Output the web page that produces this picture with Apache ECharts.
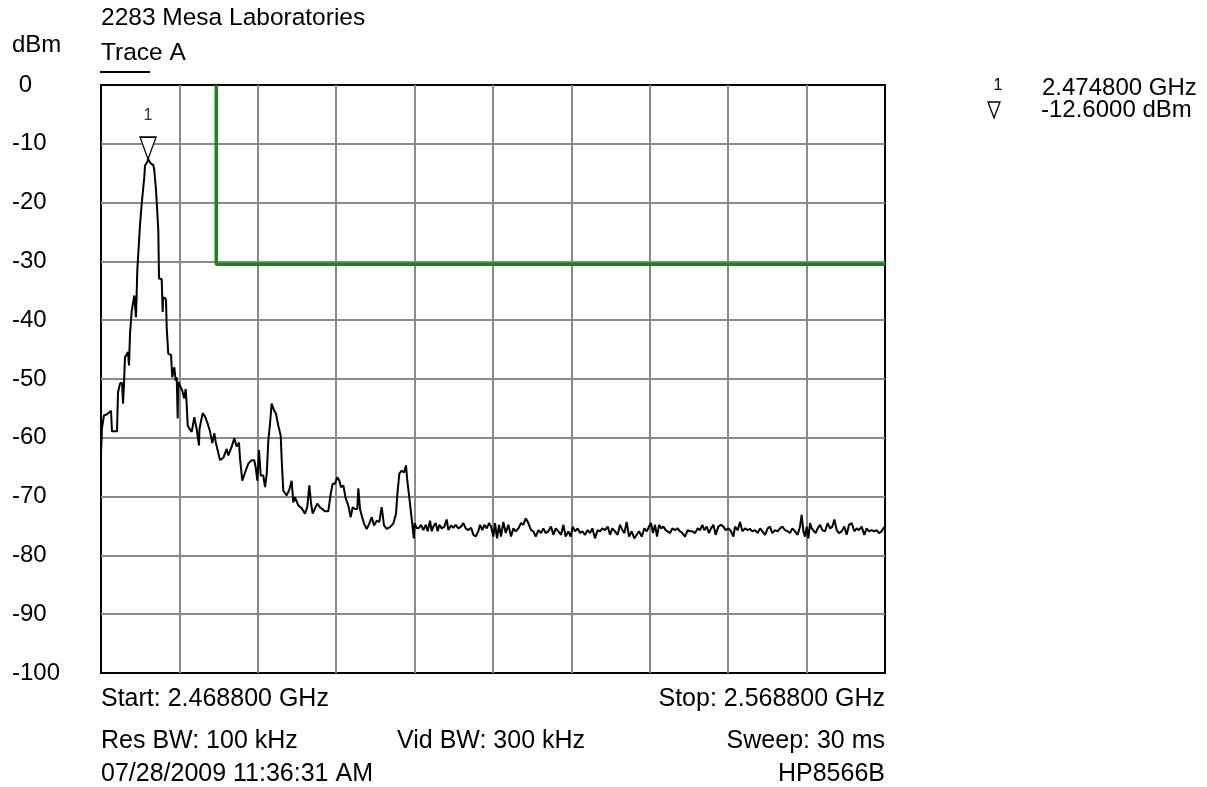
<!DOCTYPE html>
<html>
<head>
<meta charset="utf-8">
<script src="https://cdn.jsdelivr.net/npm/echarts@6/dist/echarts.min.js"></script>
<style>
html,body{margin:0;padding:0;background:#fff;}
#chart{width:1207px;height:787px;}
</style>
</head>
<body>
<div id="chart"></div>
<script>
// ---- data ----
const titleText = '2283 Mesa Laboratories';
const traceName = 'Trace A';
const yUnit = 'dBm';
const startGHz = '2.468800';
const stopGHz = '2.568800';
const spanMHz = 100;
const yTicks = [0, -10, -20, -30, -40, -50, -60, -70, -80, -90, -100];

// frequency offset from start (MHz) and measured level (dBm)
const traceFreq = [
  0.00,0.13,0.38,0.77,1.28,1.40,2.04,2.17,2.42,2.68,2.81,2.93,3.06,3.44,3.57,3.70,3.92,4.25,4.46,4.55,
  4.63,4.85,4.97,5.19,5.52,5.61,5.91,6.00,6.12,6.38,6.67,6.80,7.02,7.31,7.40,7.74,7.87,7.91,8.07,8.29,
  8.38,8.58,8.93,9.09,9.35,9.53,9.66,9.78,9.85,10.08,10.37,10.62,10.80,10.91,11.06,11.26,11.57,11.90,12.21,12.50,
  12.56,12.76,12.97,13.27,13.61,13.90,14.20,14.45,14.63,14.88,15.18,15.60,16.03,16.24,16.67,17.00,17.31,17.60,17.73,18.02,
  18.37,18.79,19.22,19.55,19.73,19.94,20.15,20.37,20.70,20.92,21.14,21.34,21.56,21.77,22.07,22.32,22.61,22.92,23.05,23.25,
  23.69,24.02,24.32,24.53,24.74,25.17,25.60,26.02,26.31,26.57,26.79,27.00,27.30,27.59,27.93,28.57,28.99,29.30,29.55,29.85,
  30.14,30.40,30.61,30.91,31.21,31.54,31.85,32.10,32.40,32.69,32.82,33.04,33.25,33.55,33.89,34.22,34.53,34.82,35.17,35.50,
  35.80,36.10,36.44,36.86,37.28,37.63,37.79,38.05,38.35,38.65,38.90,39.07,39.32,39.63,39.83,39.90,40.00,40.27,40.57,40.82,
  41.12,41.42,41.67,41.97,42.18,42.39,42.69,42.95,43.16,43.46,43.80,44.09,44.31,44.65,44.94,45.24,45.58,45.92,46.22,46.52,
  46.86,47.20,47.50,47.79,48.13,48.35,48.64,48.90,49.20,49.49,49.75,50.05,50.26,50.51,50.77,51.02,51.32,51.62,51.96,52.30,
  52.60,52.90,53.24,53.58,53.87,54.17,54.51,54.85,55.15,55.45,55.79,56.13,56.42,56.72,57.06,57.40,57.70,58.00,58.34,58.68,
  58.98,59.27,59.61,59.91,60.17,60.46,60.80,61.10,61.40,61.74,62.08,62.38,62.67,63.01,63.35,63.65,63.95,64.29,64.63,64.93,
  65.22,65.56,65.90,66.20,66.50,66.76,67.05,67.35,67.69,68.03,68.33,68.63,68.97,69.31,69.61,69.90,70.15,70.41,70.67,70.92,
  71.18,71.43,71.73,72.03,72.28,72.58,72.88,73.22,73.56,73.85,74.15,74.49,74.83,75.13,75.43,75.77,76.11,76.41,76.70,76.96,
  77.26,77.55,77.81,78.11,78.40,78.74,79.08,79.38,79.68,80.02,80.36,80.66,80.87,81.21,81.51,81.81,82.15,82.49,82.78,83.08,
  83.42,83.76,84.06,84.36,84.70,85.04,85.33,85.63,85.97,86.31,86.61,86.91,87.25,87.59,87.88,88.18,88.52,88.86,89.16,89.37,
  89.59,89.80,90.01,90.22,90.44,90.65,90.86,91.16,91.41,91.71,92.01,92.35,92.69,92.99,93.29,93.54,93.84,94.13,94.47,94.81,
  95.11,95.41,95.75,96.09,96.39,96.68,97.02,97.36,97.66,97.96,98.30,98.64,98.94,99.23,99.57,99.79,100.00
];
const traceLevel = [
  -62.7,-58.3,-56.2,-56.0,-55.4,-58.9,-58.9,-52.3,-50.8,-50.6,-54.2,-51.0,-46.3,-45.4,-47.7,-42.3,-38.4,-35.8,-39.5,-35.5,
  -31.5,-31.3,-23.9,-20.2,-15.7,-13.7,-13.1,-12.6,-12.8,-13.4,-13.6,-14.5,-17.9,-24.7,-32.9,-33.0,-38.6,-36.5,-36.1,-36.5,
  -41.2,-45.7,-45.9,-49.7,-48.0,-50.3,-49.7,-56.7,-50.5,-50.3,-52.0,-53.3,-51.7,-53.8,-57.9,-58.4,-59.0,-56.5,-58.6,-61.3,
  -58.5,-58.5,-55.8,-56.4,-57.6,-58.9,-60.9,-59.2,-60.7,-62.1,-63.8,-63.4,-61.9,-63.0,-61.5,-60.1,-61.5,-60.8,-63.5,-67.3,
  -65.9,-64.4,-63.8,-63.8,-65.0,-67.3,-62.1,-66.4,-66.4,-68.4,-66.2,-60.5,-57.6,-54.2,-55.3,-55.9,-57.9,-59.6,-63.8,-69.0,
  -69.8,-68.8,-67.3,-71.0,-70.1,-71.5,-72.0,-72.9,-71.8,-68.1,-71.2,-72.9,-72.0,-71.2,-71.8,-72.5,-72.5,-69.5,-67.8,-67.8,
  -66.7,-67.3,-68.4,-68.1,-70.3,-71.5,-73.5,-71.8,-72.1,-72.1,-68.6,-72.1,-73.2,-74.6,-75.5,-74.6,-73.5,-74.9,-74.1,-74.3,
  -71.8,-74.9,-75.5,-75.2,-74.6,-72.9,-69.8,-66.1,-65.6,-65.9,-64.7,-67.3,-70.1,-73.8,-76.3,-77.1,-74.5,-75.4,-75.3,-74.8,
  -75.7,-74.8,-75.9,-74.1,-75.9,-75.1,-74.5,-75.9,-74.8,-75.4,-75.1,-73.9,-75.7,-74.9,-75.3,-74.8,-75.4,-75.1,-74.5,-75.4,
  -75.7,-75.3,-76.5,-76.8,-75.9,-74.8,-75.7,-74.8,-75.4,-74.5,-75.1,-76.8,-74.5,-77.1,-74.8,-76.8,-74.3,-76.2,-74.8,-76.8,
  -75.4,-75.9,-75.4,-74.5,-74.8,-73.7,-74.5,-75.7,-75.9,-76.8,-75.7,-76.2,-75.4,-76.2,-75.9,-75.1,-76.5,-75.4,-75.9,-76.5,
  -74.8,-76.8,-75.9,-76.8,-75.1,-75.9,-75.4,-76.2,-75.9,-76.5,-75.7,-76.2,-75.4,-77.1,-75.7,-75.9,-75.4,-75.7,-75.1,-76.5,
  -75.4,-75.9,-76.5,-74.8,-75.7,-76.2,-74.3,-76.8,-75.9,-77.1,-76.5,-75.9,-76.8,-75.4,-75.9,-75.1,-74.5,-76.2,-74.8,-76.8,
  -74.8,-75.4,-75.1,-75.7,-75.4,-76.2,-75.4,-75.7,-75.4,-75.9,-76.2,-76.8,-75.7,-75.9,-75.9,-76.2,-75.4,-75.7,-74.8,-75.7,
  -75.1,-76.2,-75.4,-74.8,-76.5,-75.1,-74.8,-75.1,-75.7,-75.4,-75.9,-76.8,-75.1,-75.7,-74.3,-75.9,-75.4,-75.7,-75.5,-75.9,
  -75.7,-76.2,-75.4,-75.9,-76.5,-75.4,-75.1,-76.2,-75.7,-75.9,-75.4,-75.1,-75.7,-75.9,-76.2,-75.4,-75.9,-76.5,-75.1,-73.1,
  -75.9,-76.8,-75.1,-77.1,-74.5,-75.4,-75.1,-76.2,-75.4,-74.8,-75.7,-75.9,-74.5,-75.4,-75.1,-73.9,-75.7,-76.2,-75.9,-75.1,
  -76.5,-74.8,-74.5,-75.9,-75.4,-75.7,-75.1,-76.5,-75.4,-75.9,-75.7,-75.9,-75.7,-76.2,-75.9,-75.4,-75.1
];

// limit line (band edge) and marker
const limitFreqMHz = 14.7;      // 2.483500 GHz
const limitLevel = -30.5;
const markerFreqMHz = 6.0;      // 2.474800 GHz
const markerLevel = -12.6;
const markerFreqText = '2.474800 GHz';
const markerLevelText = '-12.6000 dBm';

const footer = {
  start: 'Start: ' + startGHz + ' GHz',
  stop: 'Stop: ' + stopGHz + ' GHz',
  rbw: 'Res BW: 100 kHz',
  vbw: 'Vid BW: 300 kHz',
  sweep: 'Sweep: 30 ms',
  date: '07/28/2009 11:36:31 AM',
  model: 'HP8566B'
};

// ---- chart ----
const FAM = '"Liberation Sans", Arial, sans-serif';
const FONT = '24.5px ' + FAM;
const FONT_B = '25px ' + FAM;
const traceData = traceFreq.map((f, i) => [f, traceLevel[i]]);
const limitData = [[limitFreqMHz, 0], [limitFreqMHz, limitLevel], [spanMHz, limitLevel]];

function txt(text, x, y, align, font) {
  return {
    type: 'text', x: x, y: y, silent: true,
    style: { text: text, font: font || FONT, fill: '#000', textAlign: align || 'left', textVerticalAlign: 'middle' }
  };
}

const chart = echarts.init(document.getElementById('chart'), null, { renderer: 'canvas' });
const gridLine = { show: true, showMinLine: false, showMaxLine: false, lineStyle: { color: '#8a8a8a', width: 2 } };

chart.setOption({
  animation: false,
  backgroundColor: '#fff',
  grid: { left: 101, top: 85, width: 784, height: 588, show: true, borderColor: '#000', borderWidth: 2, backgroundColor: 'transparent' },
  xAxis: {
    type: 'value', min: 0, max: spanMHz, interval: 10,
    axisLine: { show: false }, axisTick: { show: false }, axisLabel: { show: false },
    splitLine: gridLine
  },
  yAxis: {
    type: 'value', min: yTicks[yTicks.length - 1], max: yTicks[0], interval: 10,
    axisLine: { show: false }, axisTick: { show: false },
    axisLabel: {
      show: true, align: 'left', margin: 89, color: '#000', fontSize: 24,
      fontFamily: FAM,
      formatter: v => (v === 0 ? ' 0' : String(v))
    },
    splitLine: gridLine
  },
  series: [
    {
      type: 'line', name: traceName, data: traceData, symbol: 'none', z: 3,
      lineStyle: { color: '#000', width: 2 },
      markPoint: {
        symbol: 'path://M0,0L16,0L8,22Z',
        symbolSize: [16, 22],
        symbolOffset: [0, '-50%'],
        itemStyle: { color: '#fff', borderColor: '#000', borderWidth: 1.4 },
        label: { show: true, position: 'top', distance: 13, formatter: '1', color: '#333', fontSize: 16, fontFamily: FAM },
        data: [{ coord: [markerFreqMHz, markerLevel] }]
      }
    },
    {
      type: 'line', name: 'limit', data: limitData, symbol: 'none', z: 2,
      lineStyle: { color: '#138a13', width: 3.5 }
    }
  ],
  graphic: [
    txt(titleText, 101, 18),
    txt(yUnit, 12, 45, 'left', '24px ' + FAM),
    txt(traceName, 101, 53),
    { type: 'line', silent: true, shape: { x1: 100, y1: 72, x2: 150, y2: 72 }, style: { stroke: '#000', lineWidth: 2 } },
    txt('1', 998, 86, 'center', '16px ' + FAM),
    txt(markerFreqText, 1042, 88, 'left', '24px ' + FAM),
    { type: 'polygon', silent: true, shape: { points: [[988, 102], [1000, 102], [994, 118]] }, style: { fill: 'none', stroke: '#000', lineWidth: 1.3 } },
    txt(markerLevelText, 1041, 110, 'left', '24px ' + FAM),
    txt(footer.start, 101, 699, 'left', FONT_B),
    txt(footer.stop, 885, 699, 'right', FONT_B),
    txt(footer.rbw, 101, 741, 'left', FONT_B),
    txt(footer.vbw, 397, 741, 'left', FONT_B),
    txt(footer.sweep, 885, 741, 'right', FONT_B),
    txt(footer.date, 101, 774, 'left', FONT_B),
    txt(footer.model, 885, 774, 'right', FONT_B)
  ]
});
</script>
</body>
</html>
